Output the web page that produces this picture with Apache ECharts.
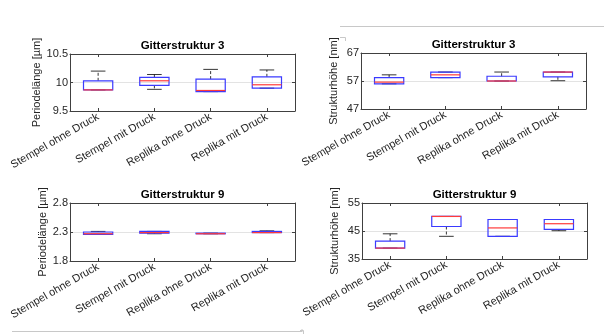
<!DOCTYPE html>
<html>
<head>
<meta charset="utf-8">
<script src="https://cdn.jsdelivr.net/npm/echarts@6/dist/echarts.min.js"></script>
<style>
html,body{margin:0;padding:0;background:#fff;}
#c{width:604px;height:334px;}
</style>
</head>
<body>
<div id="c"></div>
<script>
// Categories
var categories = ['Stempel ohne Druck', 'Stempel mit Druck', 'Replika ohne Druck', 'Replika mit Druck'];

// Box statistics per category: [lower whisker, Q1, median, Q3, upper whisker]
var periode3 = [
  [9.87, 9.87, 9.87, 10.03, 10.20],
  [9.88, 9.95, 10.03, 10.09, 10.14],
  [9.84, 9.84, 9.86, 10.06, 10.23],
  [9.90, 9.90, 9.96, 10.10, 10.22]
];
var hoehe3 = [
  [56.0, 56.0, 56.6, 58.2, 59.2],
  [58.2, 58.2, 59.2, 60.2, 60.2],
  [57.0, 57.0, 57.0, 58.7, 60.2],
  [57.1, 58.5, 60.2, 60.2, 60.2]
];
var periode9 = [
  [2.26, 2.26, 2.27, 2.30, 2.31],
  [2.27, 2.28, 2.29, 2.31, 2.31],
  [2.27, 2.27, 2.27, 2.28, 2.28],
  [2.29, 2.29, 2.29, 2.31, 2.32]
];
var hoehe9 = [
  [38.9, 38.9, 38.9, 41.4, 44.0],
  [43.1, 46.6, 50.2, 50.2, 50.2],
  [43.1, 43.1, 46.1, 49.1, 49.1],
  [45.1, 45.6, 47.6, 49.1, 49.1]
];

// Y axis tick labels
var ticksP3 = [9.5, 10, 10.5];
var ticksH3 = [47, 57, 67];
var ticksP9 = [1.8, 2.3, 2.8];
var ticksH9 = [35, 45, 55];

var titles = ['Gitterstruktur 3', 'Gitterstruktur 3', 'Gitterstruktur 9', 'Gitterstruktur 9'];
var yNames = ['Periodelänge [µm]', 'Strukturhöhe [nm]', 'Periodelänge [µm]', 'Strukturhöhe [nm]'];

var FONT = '"Liberation Sans", Arial, Helvetica, sans-serif';
var AX = '#404040';
var TXT = '#262626';

var grids = [
  {left: 70, top: 54, width: 225, height: 57},
  {left: 361, top: 53, width: 225, height: 56},
  {left: 70, top: 203, width: 225, height: 58},
  {left: 362, top: 203, width: 225, height: 56}
];
var datasets = [periode3, hoehe3, periode9, hoehe9];
var tickSets = [ticksP3, ticksH3, ticksP9, ticksH9];

var xAxes = [], yAxes = [], series = [], titleArr = [];

function renderBox(params, api) {
  var i = api.value(0);
  var lo = api.value(1), q1 = api.value(2), med = api.value(3), q3 = api.value(4), hi = api.value(5);
  var band = api.size([1, 0])[0];
  var hw = band * 0.26, cw = hw * 0.5;
  var pLo = api.coord([i, lo]), pQ1 = api.coord([i, q1]), pMed = api.coord([i, med]),
      pQ3 = api.coord([i, q3]), pHi = api.coord([i, hi]);
  var x = pMed[0];
  var ch = [];
  var dashStyle = {stroke: '#000', lineWidth: 0.8, lineDash: [3, 2]};
  var solid = {stroke: '#000', lineWidth: 0.8};
  ch.push({type: 'line', shape: {x1: x, y1: pQ3[1], x2: x, y2: pHi[1]}, style: dashStyle});
  ch.push({type: 'line', shape: {x1: x, y1: pQ1[1], x2: x, y2: pLo[1]}, style: dashStyle});
  ch.push({type: 'line', shape: {x1: x - cw, y1: pHi[1], x2: x + cw, y2: pHi[1]}, style: solid});
  ch.push({type: 'line', shape: {x1: x - cw, y1: pLo[1], x2: x + cw, y2: pLo[1]}, style: solid});
  ch.push({type: 'rect', shape: {x: x - hw, y: pQ3[1], width: 2 * hw, height: Math.max(pQ1[1] - pQ3[1], 0.5)},
           style: {stroke: '#3a3aff', fill: null, lineWidth: 1.2}});
  ch.push({type: 'line', shape: {x1: x - hw, y1: pMed[1], x2: x + hw, y2: pMed[1]},
           style: {stroke: '#ff3a3a', lineWidth: 1.2}});
  return {type: 'group', children: ch};
}

for (var g = 0; g < 4; g++) {
  var t = tickSets[g];
  var gr = grids[g];
  titleArr.push({
    text: titles[g], left: gr.left + gr.width / 2, top: gr.top - 14, textAlign: 'center', padding: 0,
    textStyle: {fontFamily: FONT, fontSize: 11.5, fontWeight: 'bold', color: '#000', lineHeight: 12}
  });
  xAxes.push({
    type: 'category', gridIndex: g, data: categories, position: 'bottom',
    axisLine: {show: true, lineStyle: {color: AX, width: 1}},
    axisTick: {show: true, inside: true, alignWithLabel: true, length: 3, lineStyle: {color: AX}},
    axisLabel: {rotate: 30, fontFamily: FONT, fontSize: 11, color: TXT, margin: 5, interval: 0},
    splitLine: {show: false}
  });
  xAxes.push({
    type: 'category', gridIndex: g, data: categories, position: 'top',
    axisLine: {show: true, lineStyle: {color: AX, width: 1}},
    axisTick: {show: true, inside: true, alignWithLabel: true, length: 3, lineStyle: {color: AX}},
    axisLabel: {show: false}, splitLine: {show: false}
  });
  var yBase = {
    type: 'value', gridIndex: g, min: t[0], max: t[t.length - 1], interval: t[1] - t[0]
  };
  yAxes.push(Object.assign({}, yBase, {
    position: 'left',
    name: yNames[g], nameLocation: 'middle', nameGap: 22,
    nameTextStyle: {fontFamily: FONT, fontSize: 11, color: TXT},
    axisLine: {show: true, lineStyle: {color: AX, width: 1}},
    axisTick: {show: true, inside: true, length: 3, lineStyle: {color: AX}},
    axisLabel: {fontFamily: FONT, fontSize: 11, color: TXT, margin: 2},
    splitLine: {show: true, lineStyle: {color: '#e3e3e3', width: 1}}
  }));
  yAxes.push(Object.assign({}, yBase, {
    position: 'right',
    axisLine: {show: true, lineStyle: {color: AX, width: 1}},
    axisTick: {show: true, inside: true, length: 3, lineStyle: {color: AX}},
    axisLabel: {show: false}, splitLine: {show: false}
  }));
  series.push({
    type: 'custom', xAxisIndex: 2 * g, yAxisIndex: 2 * g,
    renderItem: renderBox,
    data: datasets[g].map(function (d, i) { return [i].concat(d); }),
    encode: {x: 0, y: [1, 2, 3, 4, 5]},
    silent: true, animation: false
  });
}

var chart = echarts.init(document.getElementById('c'), null, {renderer: 'canvas'});
var deco = {stroke: '#c8c8c8', lineWidth: 1};
chart.setOption({
  animation: false,
  backgroundColor: '#fff',
  title: titleArr,
  grid: grids,
  xAxis: xAxes,
  yAxis: yAxes,
  series: series,
  graphic: [
    {type: 'line', shape: {x1: 340, y1: 26.5, x2: 604, y2: 26.5}, style: deco, silent: true},
    {type: 'polyline', shape: {points: [[340, 37.5], [345.5, 37.5], [345.5, 41]]}, style: deco, silent: true},
    {type: 'line', shape: {x1: 12, y1: 331.5, x2: 302, y2: 331.5}, style: deco, silent: true},
    {type: 'line', shape: {x1: 302, y1: 329, x2: 302, y2: 332}, style: deco, silent: true},
    {type: 'polyline', shape: {points: [[300, 330.5], [303.5, 330.5], [303.5, 334]]}, style: deco, silent: true}
  ]
});
</script>
</body>
</html>
